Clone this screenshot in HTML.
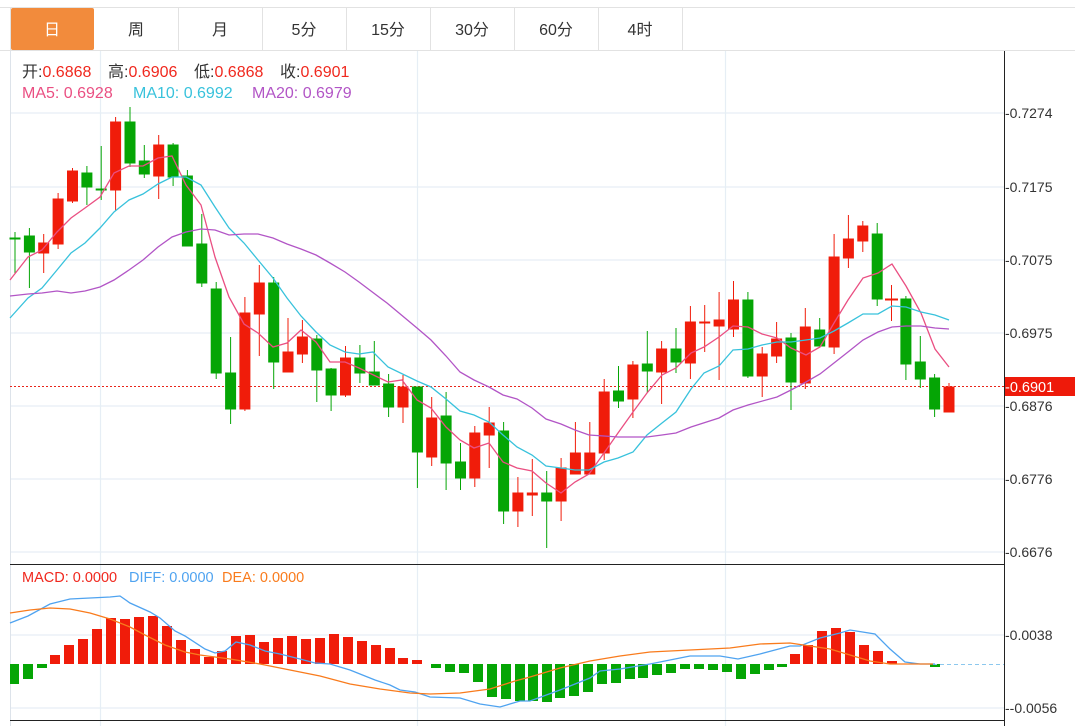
<!DOCTYPE html>
<html><head><meta charset="utf-8"><style>
body{margin:0;width:1075px;height:726px;background:#fff;overflow:hidden;font-family:"Liberation Sans","Noto Sans CJK SC",sans-serif}
svg{position:absolute;left:0;top:0}
</style></head><body>
<svg width="1075" height="726" viewBox="0 0 1075 726" xmlns="http://www.w3.org/2000/svg" font-family="Liberation Sans, Noto Sans CJK SC, sans-serif">
<!-- tabs -->
<line x1="0" y1="7.5" x2="1075" y2="7.5" stroke="#e2e2e2"/>
<line x1="0" y1="50.5" x2="1075" y2="50.5" stroke="#e2e2e2"/>
<line x1="10.5" y1="8" x2="10.5" y2="50" stroke="#e2e2e2"/>
<rect x="11" y="8" width="83" height="42" fill="#f28b3c" rx="2"/>
<g stroke="#e2e2e2"><line x1="178.5" y1="8" x2="178.5" y2="50"/><line x1="262.5" y1="8" x2="262.5" y2="50"/><line x1="346.5" y1="8" x2="346.5" y2="50"/><line x1="430.5" y1="8" x2="430.5" y2="50"/><line x1="514.5" y1="8" x2="514.5" y2="50"/><line x1="598.5" y1="8" x2="598.5" y2="50"/><line x1="682.5" y1="8" x2="682.5" y2="50"/></g>
<g font-size="16" text-anchor="middle" fill="#333"><text x="52" y="35" fill="#fff">日</text><text x="136" y="35">周</text><text x="220" y="35">月</text><text x="304" y="35">5分</text><text x="388" y="35">15分</text><text x="472" y="35">30分</text><text x="556" y="35">60分</text><text x="640" y="35">4时</text></g>
<!-- grid -->
<g stroke="#e6eef5" stroke-width="1.2">
<line x1="10" y1="113" x2="1004" y2="113"/><line x1="10" y1="187" x2="1004" y2="187"/><line x1="10" y1="260" x2="1004" y2="260"/><line x1="10" y1="333" x2="1004" y2="333"/><line x1="10" y1="406" x2="1004" y2="406"/><line x1="10" y1="479" x2="1004" y2="479"/><line x1="10" y1="552" x2="1004" y2="552"/>
<line x1="10" y1="635" x2="1004" y2="635"/><line x1="10" y1="708" x2="1004" y2="708"/>
<line x1="100.5" y1="51" x2="100.5" y2="726"/><line x1="417.5" y1="51" x2="417.5" y2="726"/><line x1="725.5" y1="51" x2="725.5" y2="726"/>
</g>
<line x1="10.5" y1="51" x2="10.5" y2="726" stroke="#dde3ea"/>
<line x1="10" y1="564.5" x2="1004" y2="564.5" stroke="#222"/>
<line x1="10" y1="720.5" x2="1004" y2="720.5" stroke="#222"/>
<line x1="1004.5" y1="51" x2="1004.5" y2="726" stroke="#222"/>
<!-- legend -->
<g font-size="16">
<text x="22" y="77" fill="#333">开:<tspan fill="#f0281e">0.6868</tspan></text>
<text x="108" y="77" fill="#333">高:<tspan fill="#f0281e">0.6906</tspan></text>
<text x="194" y="77" fill="#333">低:<tspan fill="#f0281e">0.6868</tspan></text>
<text x="280" y="77" fill="#333">收:<tspan fill="#f0281e">0.6901</tspan></text>
<text x="22" y="98" fill="#ea4f82">MA5: 0.6928</text>
<text x="133" y="98" fill="#38c2dc">MA10: 0.6992</text>
<text x="252" y="98" fill="#b255c6">MA20: 0.6979</text>
</g>
<!-- axis labels -->
<g font-size="14" fill="#333">
<text x="1005" y="118">-0.7274</text><text x="1005" y="192">-0.7175</text><text x="1005" y="265">-0.7075</text><text x="1005" y="338">-0.6975</text><text x="1005" y="411">-0.6876</text><text x="1005" y="484">-0.6776</text><text x="1005" y="557">-0.6676</text>
<text x="1005" y="640">-0.0038</text><text x="1005" y="713">--0.0056</text>
</g>
<line x1="10" y1="386.5" x2="1004" y2="386.5" stroke="#e8241a" stroke-dasharray="2,2"/>
<rect x="1005" y="377" width="70" height="19" fill="#ee1a0a"/>
<text x="1005" y="392" font-size="14.5" fill="#fff">-0.6901</text>
<!-- candles -->
<g stroke="#05a505" fill="#05a505">
<line x1="15" y1="232" x2="15" y2="273"/><rect x="10" y="238" width="10" height="1"/>
<line x1="29.4" y1="228" x2="29.4" y2="288"/><rect x="24.4" y="236" width="10" height="16"/>
<line x1="86.9" y1="166" x2="86.9" y2="205"/><rect x="81.9" y="173" width="10" height="14"/>
<line x1="101.2" y1="146" x2="101.2" y2="200"/><rect x="96.2" y="189" width="10" height="1"/>
<line x1="130" y1="107" x2="130" y2="167"/><rect x="125" y="122" width="10" height="41"/>
<line x1="144.3" y1="145" x2="144.3" y2="178"/><rect x="139.3" y="161" width="10" height="13"/>
<line x1="173.1" y1="143" x2="173.1" y2="186"/><rect x="168.1" y="145" width="10" height="32"/>
<line x1="187.4" y1="170" x2="187.4" y2="246"/><rect x="182.4" y="176" width="10" height="70"/>
<line x1="201.8" y1="214" x2="201.8" y2="287"/><rect x="196.8" y="244" width="10" height="39"/>
<line x1="216.2" y1="282" x2="216.2" y2="379"/><rect x="211.2" y="289" width="10" height="84"/>
<line x1="230.6" y1="337" x2="230.6" y2="424"/><rect x="225.6" y="373" width="10" height="36"/>
<line x1="273.7" y1="277" x2="273.7" y2="389"/><rect x="268.7" y="283" width="10" height="79"/>
<line x1="316.8" y1="335" x2="316.8" y2="402"/><rect x="311.8" y="339" width="10" height="31"/>
<line x1="331.1" y1="368" x2="331.1" y2="411"/><rect x="326.1" y="369" width="10" height="26"/>
<line x1="359.9" y1="345" x2="359.9" y2="383"/><rect x="354.9" y="358" width="10" height="15"/>
<line x1="374.3" y1="341" x2="374.3" y2="385"/><rect x="369.3" y="372" width="10" height="13"/>
<line x1="388.6" y1="374" x2="388.6" y2="417"/><rect x="383.6" y="384" width="10" height="23"/>
<line x1="417.4" y1="387" x2="417.4" y2="488"/><rect x="412.4" y="387" width="10" height="65"/>
<line x1="446.1" y1="392" x2="446.1" y2="490"/><rect x="441.1" y="416" width="10" height="47"/>
<line x1="460.5" y1="443" x2="460.5" y2="490"/><rect x="455.5" y="462" width="10" height="16"/>
<line x1="503.6" y1="422" x2="503.6" y2="524"/><rect x="498.6" y="431" width="10" height="80"/>
<line x1="546.7" y1="471" x2="546.7" y2="548"/><rect x="541.7" y="493" width="10" height="8"/>
<line x1="618.5" y1="366" x2="618.5" y2="408"/><rect x="613.5" y="391" width="10" height="10"/>
<line x1="647.3" y1="331" x2="647.3" y2="393"/><rect x="642.3" y="364" width="10" height="7"/>
<line x1="676" y1="328" x2="676" y2="373"/><rect x="671" y="349" width="10" height="13"/>
<line x1="747.9" y1="292" x2="747.9" y2="378"/><rect x="742.9" y="300" width="10" height="76"/>
<line x1="791" y1="333" x2="791" y2="410"/><rect x="786" y="338" width="10" height="44"/>
<line x1="819.7" y1="318" x2="819.7" y2="346"/><rect x="814.7" y="330" width="10" height="16"/>
<line x1="877.2" y1="223" x2="877.2" y2="306"/><rect x="872.2" y="234" width="10" height="65"/>
<line x1="905.9" y1="296" x2="905.9" y2="380"/><rect x="900.9" y="299" width="10" height="65"/>
<line x1="920.3" y1="336" x2="920.3" y2="388"/><rect x="915.3" y="362" width="10" height="17"/>
<line x1="934.6" y1="374" x2="934.6" y2="417"/><rect x="929.6" y="378" width="10" height="31"/>
</g>
<g stroke="#f01c0a" fill="#f01c0a">
<line x1="43.7" y1="234" x2="43.7" y2="273"/><rect x="38.7" y="243" width="10" height="10"/>
<line x1="58.1" y1="193" x2="58.1" y2="249"/><rect x="53.1" y="199" width="10" height="45"/>
<line x1="72.5" y1="168" x2="72.5" y2="203"/><rect x="67.5" y="171" width="10" height="30"/>
<line x1="115.6" y1="117" x2="115.6" y2="211"/><rect x="110.6" y="122" width="10" height="68"/>
<line x1="158.7" y1="135" x2="158.7" y2="199"/><rect x="153.7" y="145" width="10" height="31"/>
<line x1="244.9" y1="297" x2="244.9" y2="411"/><rect x="239.9" y="313" width="10" height="96"/>
<line x1="259.3" y1="265" x2="259.3" y2="356"/><rect x="254.3" y="283" width="10" height="31"/>
<line x1="288" y1="318" x2="288" y2="372"/><rect x="283" y="352" width="10" height="20"/>
<line x1="302.4" y1="320" x2="302.4" y2="363"/><rect x="297.4" y="337" width="10" height="17"/>
<line x1="345.5" y1="346" x2="345.5" y2="397"/><rect x="340.5" y="358" width="10" height="37"/>
<line x1="403" y1="375" x2="403" y2="423"/><rect x="398" y="387" width="10" height="20"/>
<line x1="431.7" y1="397" x2="431.7" y2="466"/><rect x="426.7" y="418" width="10" height="39"/>
<line x1="474.8" y1="426" x2="474.8" y2="487"/><rect x="469.8" y="433" width="10" height="45"/>
<line x1="489.2" y1="407" x2="489.2" y2="468"/><rect x="484.2" y="423" width="10" height="12"/>
<line x1="517.9" y1="477" x2="517.9" y2="527"/><rect x="512.9" y="493" width="10" height="18"/>
<line x1="532.3" y1="459" x2="532.3" y2="516"/><rect x="527.3" y="493" width="10" height="2"/>
<line x1="561.1" y1="458" x2="561.1" y2="521"/><rect x="556.1" y="468" width="10" height="33"/>
<line x1="575.4" y1="422" x2="575.4" y2="474"/><rect x="570.4" y="453" width="10" height="21"/>
<line x1="589.8" y1="422" x2="589.8" y2="474"/><rect x="584.8" y="453" width="10" height="21"/>
<line x1="604.2" y1="379" x2="604.2" y2="460"/><rect x="599.2" y="392" width="10" height="61"/>
<line x1="632.9" y1="361" x2="632.9" y2="418"/><rect x="627.9" y="365" width="10" height="34"/>
<line x1="661.6" y1="341" x2="661.6" y2="404"/><rect x="656.6" y="349" width="10" height="23"/>
<line x1="690.4" y1="306" x2="690.4" y2="379"/><rect x="685.4" y="322" width="10" height="41"/>
<line x1="704.7" y1="305" x2="704.7" y2="352"/><rect x="699.7" y="322" width="10" height="1"/>
<line x1="719.1" y1="292" x2="719.1" y2="380"/><rect x="714.1" y="320" width="10" height="6"/>
<line x1="733.5" y1="281" x2="733.5" y2="337"/><rect x="728.5" y="300" width="10" height="29"/>
<line x1="762.2" y1="347" x2="762.2" y2="397"/><rect x="757.2" y="354" width="10" height="22"/>
<line x1="776.6" y1="322" x2="776.6" y2="363"/><rect x="771.6" y="339" width="10" height="17"/>
<line x1="805.3" y1="308" x2="805.3" y2="389"/><rect x="800.3" y="327" width="10" height="56"/>
<line x1="834.1" y1="234" x2="834.1" y2="354"/><rect x="829.1" y="257" width="10" height="90"/>
<line x1="848.4" y1="215" x2="848.4" y2="268"/><rect x="843.4" y="239" width="10" height="19"/>
<line x1="862.8" y1="221" x2="862.8" y2="252"/><rect x="857.8" y="226" width="10" height="15"/>
<line x1="891.5" y1="285" x2="891.5" y2="321"/><rect x="885.5" y="299" width="12" height="1"/>
<line x1="949" y1="383" x2="949" y2="412"/><rect x="944" y="387" width="10" height="25"/>
</g>
<!-- MAs -->
<g fill="none" stroke-width="1.3">
<polyline stroke="#ea4f82" points="10,280 28,257 42,250 57,232 71,218 85,208 100,197 114,173 129,166 143,166 158,158 172,156 186,185 201,205 215,257 229,297 244,324 258,333 273,347 287,343 301,330 316,342 330,362 345,362 359,368 388,382 402,380 417,400 431,408 446,427 460,440 474,448 489,443 503,462 517,468 532,471 546,483 561,493 575,482 589,474 604,453 618,433 633,412 647,393 662,375 676,368 691,353 704,347 719,337 733,326 748,327 762,334 777,338 791,348 806,355 820,347 834,323 848,300 863,278 878,273 892,264 906,286 921,313 935,349 949,367"/>
<polyline stroke="#38c2dc" points="10,318 28,298 42,288 57,270 71,253 85,243 100,228 114,212 129,200 143,194 158,184 172,177 186,177 201,185 215,207 229,228 244,243 258,260 273,278 287,298 301,316 316,332 330,345 345,352 359,354 373,352 388,367 417,381 431,387 446,399 460,411 474,415 489,422 503,435 517,447 532,455 546,466 561,468 575,470 589,470 604,462 618,458 633,452 647,435 662,423 676,412 691,389 704,373 719,366 733,350 748,349 762,345 777,342 791,342 806,340 820,338 834,331 848,323 863,314 878,314 892,306 906,307 921,312 935,315 949,320"/>
<polyline stroke="#b255c6" points="10,296 28,294 42,293 57,291 71,293 85,291 100,287 114,280 129,270 143,260 158,247 172,237 186,232 201,229 215,230 229,235 244,234 258,234 273,238 287,244 301,249 316,255 330,263 345,272 359,282 387,303 417,328 431,340 446,356 460,372 474,380 489,387 503,395 517,399 532,408 546,419 561,424 575,430 589,435 604,436 618,437 647,437 662,435 676,433 691,427 719,418 733,410 748,405 777,397 791,390 806,382 820,374 834,363 848,352 863,340 878,332 892,327 906,326 921,326 935,328 949,329"/>
</g>
<!-- MACD -->
<g font-size="14.5">
<text x="22" y="582" fill="#f0281e">MACD: 0.0000</text>
<text x="129" y="582" fill="#4fa3f0">DIFF: 0.0000</text>
<text x="222" y="582" fill="#f97b1c">DEA: 0.0000</text>
</g>
<g fill="#05a505">
<rect x="10" y="664" width="9" height="20"/><rect x="23" y="664" width="10" height="15"/><rect x="37" y="664" width="10" height="4"/>
<rect x="431" y="664" width="10" height="4"/><rect x="445" y="664" width="10" height="8"/><rect x="459" y="664" width="10" height="9"/><rect x="473" y="664" width="10" height="18"/><rect x="487" y="664" width="10" height="33"/><rect x="501" y="664" width="10" height="35"/><rect x="515" y="664" width="10" height="37"/>
<rect x="528" y="664" width="10" height="37"/><rect x="542" y="664" width="10" height="38"/><rect x="555" y="664" width="10" height="34"/><rect x="569" y="664" width="10" height="32"/><rect x="583" y="664" width="10" height="28"/><rect x="597" y="664" width="10" height="20"/><rect x="611" y="664" width="10" height="19"/><rect x="625" y="664" width="10" height="15"/><rect x="638" y="664" width="10" height="14"/><rect x="652" y="664" width="10" height="11"/><rect x="666" y="664" width="10" height="9"/><rect x="680" y="664" width="10" height="5"/><rect x="694" y="664" width="10" height="5"/><rect x="708" y="664" width="10" height="6"/><rect x="722" y="664" width="10" height="8"/><rect x="736" y="664" width="10" height="15"/><rect x="750" y="664" width="10" height="10"/><rect x="764" y="664" width="10" height="6"/><rect x="777" y="664" width="10" height="3"/><rect x="930" y="664" width="10" height="3"/>
</g>
<g fill="#f01c0a">
<rect x="50" y="655" width="10" height="9"/><rect x="64" y="645" width="10" height="19"/><rect x="78" y="639" width="10" height="25"/><rect x="92" y="629" width="10" height="35"/><rect x="106" y="618" width="10" height="46"/><rect x="120" y="619" width="10" height="45"/><rect x="134" y="617" width="10" height="47"/><rect x="148" y="616" width="10" height="48"/><rect x="162" y="626" width="10" height="38"/><rect x="176" y="640" width="10" height="24"/><rect x="190" y="649" width="10" height="15"/><rect x="204" y="657" width="10" height="7"/><rect x="217" y="651" width="10" height="13"/><rect x="231" y="636" width="10" height="28"/><rect x="245" y="635" width="10" height="29"/><rect x="259" y="642" width="10" height="22"/><rect x="273" y="638" width="10" height="26"/><rect x="287" y="636" width="10" height="28"/><rect x="301" y="639" width="10" height="25"/><rect x="315" y="638" width="10" height="26"/><rect x="329" y="634" width="10" height="30"/><rect x="343" y="637" width="10" height="27"/><rect x="357" y="641" width="10" height="23"/><rect x="371" y="645" width="10" height="19"/><rect x="385" y="648" width="10" height="16"/><rect x="398" y="658" width="10" height="6"/><rect x="412" y="660" width="10" height="4"/>
<rect x="790" y="654" width="10" height="10"/><rect x="803" y="645" width="10" height="19"/><rect x="817" y="631" width="10" height="33"/><rect x="831" y="628" width="10" height="36"/><rect x="845" y="632" width="10" height="32"/><rect x="859" y="645" width="10" height="19"/><rect x="873" y="651" width="10" height="13"/><rect x="887" y="661" width="10" height="3"/>
</g>
<line x1="933" y1="664.5" x2="1004" y2="664.5" stroke="#8cc8ee" stroke-dasharray="4,3"/>
<g fill="none" stroke-width="1.3">
<polyline stroke="#4fa3f0" points="10,623 28,616 50,604 70,599 110,597 120,596 130,603 150,612 160,618 175,631 185,636 205,649 215,653 225,651 236,642 250,645 265,651 280,654 300,659 315,663 330,664 350,670 375,680 390,685 400,690 415,692 430,697 460,698 480,704 500,707 520,701 530,701 560,690 590,678 600,671 620,669 650,664 670,660 690,656 720,656 738,659 760,654 790,646 800,646 820,638 840,633 850,630 875,634 890,649 905,662 920,664 935,664"/>
<polyline stroke="#f97b1c" points="10,613 30,610 50,608 70,609 90,613 110,619 130,627 145,635 165,645 185,652 200,655 230,659 260,664 290,670 320,676 350,684 380,689 410,693 430,694 460,693 490,689 515,681 530,677 560,668 590,661 620,656 650,652 690,650 730,648 760,644 790,643 810,646 830,649 850,655 870,661 890,664 933,664"/>
</g>
</svg>
</body></html>
